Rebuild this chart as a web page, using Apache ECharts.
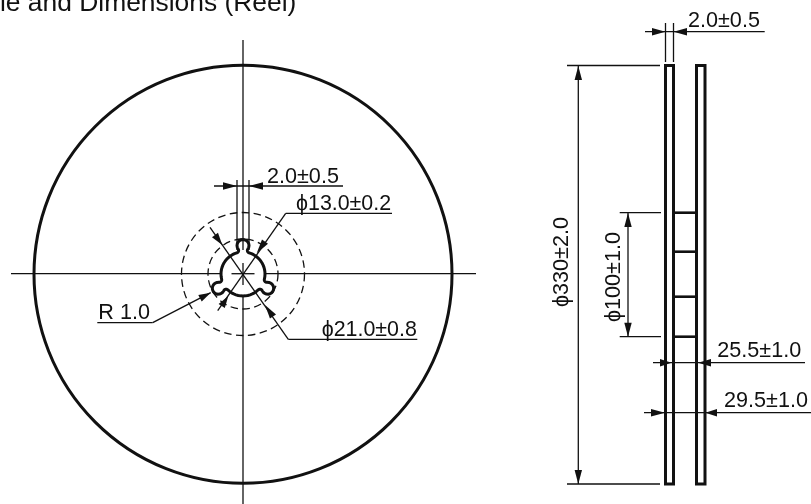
<!DOCTYPE html>
<html><head><meta charset="utf-8">
<style>html,body{margin:0;padding:0;background:#fff}#c{width:811px;height:504px}</style>
<script src="https://cdn.jsdelivr.net/npm/echarts@6/dist/echarts.min.js"></script>
</head><body><div id="c"></div>
<script>
// all values are drawing coordinates
const reelCenter = [243, 274];
const solidCircles = [[243, 274.3, 209]];
const dashedCircles = [[243, 274, 61.5], [243, 274, 35]];
const lobeAngles = [0, -120, -240];
const hubRadius = 22, lobeDistance = 28.5, lobeRadius = 6, filletRadius = 2.5;
const thinLines = [
  [11,273.7,220,273.7],[231.5,273.7,254.5,273.7],[265,273.7,476,273.7],
  [243,40,243,250],[243,263,243,285],[243,295,243,504],
  [214,186,343,186],[237,180,237,250],[249,180,249,250],
  [392,213.3,285.7,213.3],[285.7,213.3,217.7,310.7],
  [417.3,339.3,288.3,339.3],[288.3,339.3,210,227.3],
  [97.3,322.7,152.7,322.7],[152.7,322.7,210.7,292.7],
  [645,31.7,764.7,31.7],[665.5,23,665.5,62],[673.5,23,673.5,62],
  [567,65.5,660,65.5],[567,484,660,484],[578.3,66,578.3,484],
  [619.7,212.7,661,212.7],[619.7,336.7,661,336.7],[628,213,628,336.7],
  [653,362.7,805,362.7],[644,412.7,811,412.7]
];
const thickRects = [[665.5,65.5,673.5,484],[696.5,65.5,705,484]];
const hubLines = [[673.5,212.7,696.5,212.7],[673.5,251.7,696.5,251.7],[673.5,296.7,696.5,296.7],[673.5,336.7,696.5,336.7]];
const arrowHeads = [
  [237,186,223,186],[249,186,263,186],
  [256.7,253.3,265,241.7],[228.3,296,221.7,306],
  [222.3,245,215,235],[265,305,273,316.5],
  [210.7,292.7,200,298.3],
  [665.5,31.7,652,31.7],[673.5,31.7,687,31.7],
  [578.3,66,578.3,80],[578.3,484,578.3,470],
  [628,213,628,227],[628,336.7,628,322.7],
  [671.5,362.7,660,362.7],[698,362.7,711,362.7],
  [665,412.7,651,412.7],[705.3,412.7,717,412.7]
];
const labelTexts = ['le and Dimensions (Reel)','2.0±0.5','ϕ13.0±0.2','R 1.0','ϕ21.0±0.8','2.0±0.5','ϕ330±2.0','ϕ100±1.0','25.5±1.0','29.5±1.0'];
const labelX = [0,267,296,98.3,321.7,688,566.5,619,717.3,724];
const labelBase = [9.3,181.7,208.3,317.3,334.3,26,307,322,355.5,405.5];
const labelRotated = [0,0,0,0,0,0,1,1,0,0];
const labelSize = [26.4,21.6,21.4,21.6,21.4,21.6,21.6,21.6,21.6,21.6];

// outline of the three-lobed hub bore, as arcs around the lobes
function hubOutline(){
  const [cx,cy]=reelCenter, R=hubRadius, D=lobeDistance, r=lobeRadius, f=filletRadius;
  const fy=((R+f)*(R+f)-(r+f)*(r+f)+D*D)/(2*D), fx=Math.sqrt((R+f)*(R+f)-fy*fy);
  const pts=[];
  const arc=(ox,oy,rad,a0,a1,rot)=>{
    const n=14;
    for(let i=0;i<=n;i++){
      const a=a0+(a1-a0)*i/n, u=ox+rad*Math.cos(a), v=oy+rad*Math.sin(a);
      const c=Math.cos(rot), s=Math.sin(rot);
      pts.push([cx+u*c-v*s, cy-(u*s+v*c)]);
    }
  };
  const hubEnd=Math.atan2(fy,fx), hubNext=Math.atan2(fy,-fx)-2*Math.PI/3;
  lobeAngles.forEach(d=>{
    const rot=d*Math.PI/180;
    arc(-fx,fy,f,Math.atan2(-fy,fx),Math.atan2(D-fy,fx),rot);
    const a1=Math.atan2(fy-D,-fx); const a2=Math.atan2(fy-D,fx);
    arc(0,D,r,a1<0?a1+2*Math.PI:a1,a2,rot);
    let b0=Math.atan2(D-fy,-fx), b1=Math.atan2(-fy,-fx); if(b1<b0)b1+=2*Math.PI;
    arc(fx,fy,f,b0,b1,rot);
    arc(0,0,R,hubEnd,hubNext,rot);
  });
  return pts;
}
const INK='#111';
const line=(api,w)=>({type:'line',shape:{x1:api.coord([api.value(0),api.value(1)])[0],y1:api.coord([api.value(0),api.value(1)])[1],x2:api.coord([api.value(2),api.value(3)])[0],y2:api.coord([api.value(2),api.value(3)])[1]},style:{stroke:INK,lineWidth:w,fill:null}});
const chart=echarts.init(document.getElementById('c'),null,{renderer:'canvas'});
const labelData=labelTexts.map((t,i)=>[labelX[i],labelBase[i],labelRotated[i],t,labelSize[i]]);
chart.setOption({
  animation:false,backgroundColor:'#fff',
  grid:{left:0,right:0,top:0,bottom:0},
  xAxis:{type:'value',min:0,max:811,show:false},
  yAxis:{type:'value',min:0,max:504,inverse:true,show:false},
  series:[
    {type:'custom',silent:true,clip:false,data:thinLines,renderItem:(p,api)=>line(api,1.3)},
    {type:'custom',silent:true,clip:false,data:hubLines,renderItem:(p,api)=>line(api,2.6)},
    {type:'custom',silent:true,clip:false,data:thickRects,renderItem:(p,api)=>{
      const a=api.coord([api.value(0),api.value(1)]),b=api.coord([api.value(2),api.value(3)]);
      return {type:'rect',shape:{x:a[0],y:a[1],width:b[0]-a[0],height:b[1]-a[1]},style:{stroke:INK,lineWidth:3,fill:null}};
    }},
    {type:'custom',silent:true,clip:false,data:solidCircles,renderItem:(p,api)=>{
      const c=api.coord([api.value(0),api.value(1)]);
      return {type:'circle',shape:{cx:c[0],cy:c[1],r:api.size([api.value(2),0])[0]},style:{stroke:INK,lineWidth:3,fill:null}};
    }},
    {type:'custom',silent:true,clip:false,data:dashedCircles,renderItem:(p,api)=>{
      const c=api.coord([api.value(0),api.value(1)]);
      return {type:'circle',shape:{cx:c[0],cy:c[1],r:api.size([api.value(2),0])[0]},style:{stroke:INK,lineWidth:1.3,fill:null,lineDash:[7.5,4.5]}};
    }},
    {type:'custom',silent:true,clip:false,data:[0],renderItem:(p,api)=>{
      const pts=hubOutline().map(q=>api.coord(q));
      return {type:'polygon',shape:{points:pts},style:{stroke:INK,lineWidth:3,fill:null,lineJoin:'round'}};
    }},
    {type:'custom',silent:true,clip:false,data:arrowHeads,renderItem:(p,api)=>{
      const t=api.coord([api.value(0),api.value(1)]),b=api.coord([api.value(2),api.value(3)]);
      const dx=b[0]-t[0],dy=b[1]-t[1],L=Math.hypot(dx,dy),h=3.7;
      return {type:'polygon',shape:{points:[t,[b[0]-dy/L*h,b[1]+dx/L*h],[b[0]+dy/L*h,b[1]-dx/L*h]]},style:{fill:INK,stroke:null}};
    }},
    {type:'custom',silent:true,clip:false,data:labelData,renderItem:(p,api)=>{
      const d=labelData[p.dataIndex];
      const c=api.coord([d[0],d[1]]);
      const off=d[4]*0.29;
      return {type:'text',x:d[2]?c[0]+off:c[0],y:d[2]?c[1]:c[1]+off,rotation:d[2]?Math.PI/2:0,
        style:{text:d[3],x:0,y:0,font:d[4]+'px "Liberation Sans", Arial, sans-serif',fill:INK,textAlign:'left',verticalAlign:'bottom'}};
    }}
  ]
});
</script></body></html>
